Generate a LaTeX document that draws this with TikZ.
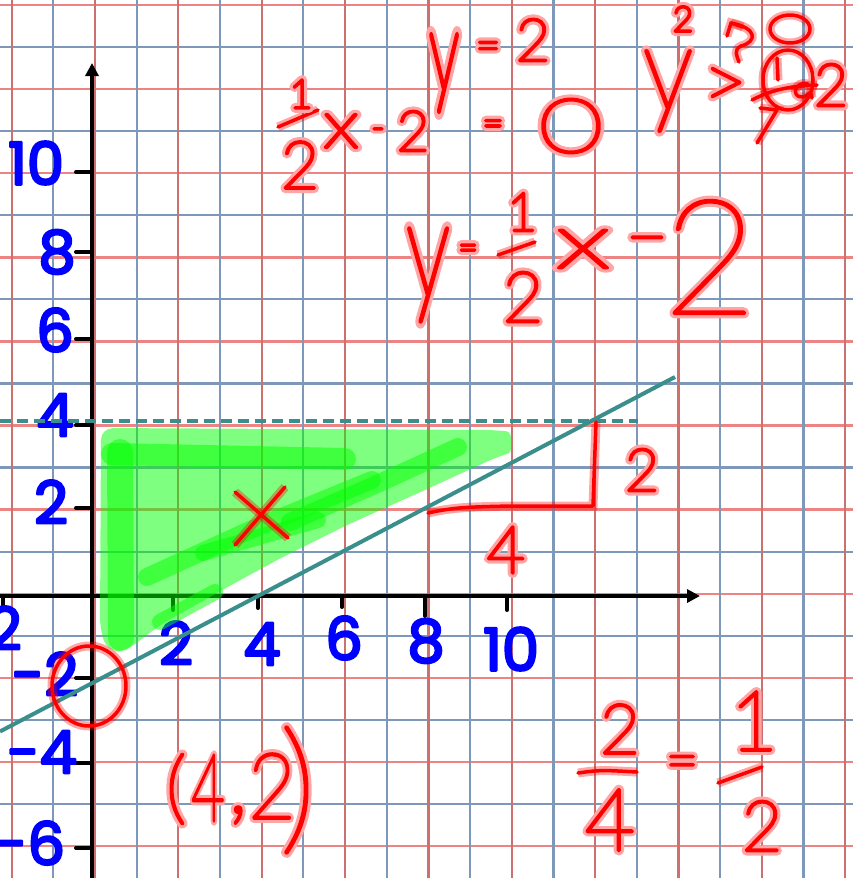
\documentclass[tikz,border=0pt]{standalone}
\usepackage{graphicx}
\usepackage{fontspec}
\setmainfont{Poppins}
\newcommand{\inkw}{0}
\newcommand{\glowwd}{7}
\IfFontExistsTF{Lato Hairline}{\newfontfamily\handfont{Lato Hairline}\renewcommand{\inkw}{3.2}\renewcommand{\glowwd}{9.5}}{%
 \IfFontExistsTF{Lato Thin}{\newfontfamily\handfont{Lato Thin}\renewcommand{\inkw}{2.6}\renewcommand{\glowwd}{9}}{%
  \IfFontExistsTF{Lato Light}{\newfontfamily\handfont{Lato Light}\renewcommand{\inkw}{1.2}\renewcommand{\glowwd}{8}}{%
   \newfontfamily\handfont{Poppins}}}}
\usetikzlibrary{arrows.meta}
\definecolor{gridred}{RGB}{205,112,112}
\definecolor{gridredh}{RGB}{236,132,132}
\definecolor{gridblue}{RGB}{126,152,185}
\definecolor{tealc}{RGB}{58,142,140}
\definecolor{lblue}{RGB}{0,0,255}
\definecolor{inkred}{RGB}{255,0,0}
\definecolor{glowred}{RGB}{255,165,165}
\definecolor{hgreen}{RGB}{0,255,0}
\newcommand{\glowon}{\special{pdf:literal direct 2 Tr \glowwd\space w 1 j 1 J}}
\newcommand{\inkon}{\special{pdf:literal direct 2 Tr \inkw\space w 1 j 1 J}}
\newcommand{\lblon}{\special{pdf:literal direct 2 Tr 2.4 w 1 j 1 J}}
\newcommand{\txtoff}{\special{pdf:literal direct 0 Tr}}
\newcommand{\hwtext}[5]{%
  \node[glowtxt, font=\handfont\fontsize{#4}{#4}\selectfont] (#1g) at (#2,#3) {\glowon#5\txtoff};
  \node[inktxt, font=\handfont\fontsize{#4}{#4}\selectfont] (#1) at (#2,#3) {\inkon#5\txtoff};}
\newcommand{\blab}[3]{\node[lab] (#1) at (#2) {\lblon#3\txtoff};}
\tikzset{
  gridRv/.style={draw=gridred, line width=2.2pt},
  gridRh/.style={draw=gridredh, line width=2.4pt},
  gridB/.style={draw=gridblue, line width=2.2pt},
  axisline/.style={draw=black, line width=4.5pt},
  tickmark/.style={draw=black, line width=4pt, line cap=round},
  lab/.style={inner sep=0pt, text=lblue, font=\fontsize{59}{59}\selectfont},
  tealline/.style={draw=tealc, line width=4pt},
  glowtxt/.style={inner sep=0pt, text=glowred},
  inktxt/.style={inner sep=0pt, text=inkred},
  ink/.style={draw=inkred, line width=3.5pt, line cap=round, line join=round,
    preaction={draw=inkred, draw opacity=0.35, line width=9pt}},
  gstroke/.style={draw=hgreen, draw opacity=0.5, line cap=round, line join=round},
}
\begin{document}
\begin{tikzpicture}[x=1pt,y=-1pt]
\path[use as bounding box] (0,0) rectangle (853,878);
\clip (0,0) rectangle (853,878);
\fill[white] (0,0) rectangle (853,878);
% grid
\foreach \k in {1,3,...,19} \draw[gridB] (0,{5+42.05*\k}) -- (853,{5+42.05*\k});
\foreach \k in {0,2,...,20} \draw[gridRh] (0,{5+42.05*\k}) -- (853,{5+42.05*\k});
\foreach \k in {1,3,...,19} \draw[gridB] ({11.7+41.67*\k},0) -- ({11.7+41.67*\k},878);
\foreach \k in {0,2,...,20} \draw[gridRv] ({11.7+41.67*\k},0) -- ({11.7+41.67*\k},878);
% axes
\coordinate (yb) at (92,878);
\coordinate (yt) at (92,63);
\coordinate (xl) at (0,596);
\coordinate (xr) at (700,596);
\draw[axisline,-{Triangle[width=13pt,length=13pt]}] (yb) -- (yt);
\draw[axisline,-{Triangle[width=13pt,length=13pt]}] (xl) -- (xr);
\foreach \yy in {172,252,339,425,508,678,763,848} \draw[tickmark] (76,\yy) -- (92,\yy);
\foreach \xx/\ye in {3/610,173/610,258/608,342/607,425/616,507/610} \draw[tickmark] (\xx,596) -- (\xx,\ye);
% axis labels
\blab{ly10}{36,163}{10}
\blab{ly8}{57,252}{8}
\blab{ly6}{55,330}{6}
\blab{ly4}{55,415}{4}
\blab{ly2}{51,502}{2}
\blab{lym2}{45,674}{-2}
\blab{lym4}{42,752}{-4}
\blab{lym6}{30,843}{-6}
\node[lab, anchor=east] (lxm2) at (22,628) {\lblon-2\txtoff};
\blab{lx2}{176,643}{2}
\blab{lx4}{262,644}{4}
\blab{lx6}{344,638}{6}
\blab{lx8}{426,641}{8}
\blab{lx10}{511,649}{10}
% teal lines
\coordinate (d0) at (0,421);
\coordinate (d1) at (638,421);
\draw[tealline, dash pattern=on 11pt off 6pt] (d0) -- (d1);
\coordinate (l0) at (0,731.5);
\coordinate (l1) at (675,377);
\draw[tealline] (l0) -- (l1);
% green highlight
\fill[hgreen, fill opacity=0.5, rounded corners=12pt] (101,428) -- (495,430) .. controls (513,432) and (513,452) .. (497,457) -- (425,490) -- (345,526) -- (277,560) -- (215,594) -- (160,625) -- (126,651) -- (108,652) -- (100,630) -- cycle;
\draw[gstroke, line width=22pt] (112,454) -- (345,459);
\draw[gstroke, line width=26pt] (120,452) -- (121,638);
\draw[gstroke, line width=18pt] (147,577) -- (250,530) -- (372,480);
\draw[gstroke, line width=16pt] (203,553) -- (318,520);
\draw[gstroke, line width=18pt] (290,522) -- (375,485) -- (458,447);
\draw[gstroke, line width=16pt] (160,622) -- (215,592);
% red strokes
\draw[ink] (235,492) -- (288,538);
\draw[ink] (285,487) -- (235,545);
\draw[ink] (89,686) ellipse [x radius=37pt, y radius=40pt];
\draw[ink] (428,513) .. controls (455,507) and (470,507) .. (510,506) -- (593,506) -- (596,422);
\draw[ink] (278,127) -- (318,110);
\draw[ink] (498,255) -- (535,242);
\draw[ink] (578,773) .. controls (600,770) .. (637,772);
\draw[ink] (718,783) -- (762,767);
\draw[ink] (790,29) ellipse [x radius=20pt, y radius=14pt];
\draw[ink] (788,80) ellipse [x radius=25pt, y radius=30pt];
\draw[ink] (752,100) .. controls (775,88) and (795,86) .. (817,85);
\draw[ink] (760,108) -- (777,110) -- (757,143);
\draw[ink] (777,58) -- (778,80);
\draw[ink] (808,84) .. controls (795,80) and (790,98) .. (803,97) .. controls (810,95) and (810,88) .. (812,98);
\draw[ink] (727,36) -- (731,23) -- (743,27);
\draw[ink] (731,23) .. controls (758,28) and (757,42) .. (741,46) .. controls (733,50) and (737,56) .. (739,62);
% red handwriting
\hwtext{t1}{301}{94}{40}{1}
\hwtext{t2}{300}{165}{66}{2}
\hwtext{t3}{341}{131}{67}{\scalebox{1.2}[1]{x}}
\hwtext{t4}{378}{134}{36}{-}
\hwtext{t5}{413}{131}{56}{2}
\hwtext{t6}{444}{73}{61}{\scalebox{1}[1.86]{y}}
\hwtext{t7}{488}{51}{42}{=}
\hwtext{t8}{533}{40}{59}{2}
\hwtext{t9}{493}{128}{36}{=}
\hwtext{t10}{571}{126}{75}{\scalebox{1.15}[1]{O}}
\hwtext{u1}{668}{91}{102}{\scalebox{1}[1.17]{y}}
\hwtext{u2}{683}{19}{35}{2}
\hwtext{u3}{725}{88}{75}{>}
\hwtext{u4}{831}{85}{59}{2}
\hwtext{m1}{428}{275}{89}{\scalebox{1}[1.55]{y}}
\hwtext{m2}{468}{252}{34}{=}
\hwtext{m3}{522}{212}{53}{1}
\hwtext{m4}{523}{297}{70}{2}
\hwtext{m5}{583}{249}{77}{\scalebox{1.6}[1]{x}}
\hwtext{m6}{647}{248}{76}{–}
\hwtext{m7}{710}{257}{160}{2}
\hwtext{r1}{642}{470}{59}{2}
\hwtext{r2}{506}{550}{66}{4}
\hwtext{p1}{176}{789}{80}{(}
\hwtext{p2}{208}{788}{94}{\scalebox{0.62}[1]{4}}
\hwtext{p3}{238}{815}{94}{,}
\hwtext{p4}{272}{786}{91}{\scalebox{0.9}[1]{2}}
\hwtext{p5}{298}{790}{145}{)}
\hwtext{s1}{620}{729}{69}{2}
\hwtext{s2}{610}{820}{87}{4}
\hwtext{s3}{682}{768}{56}{=}
\hwtext{s4}{754}{721}{83}{1}
\hwtext{s5}{762}{826}{70}{2}
\end{tikzpicture}
\end{document}
